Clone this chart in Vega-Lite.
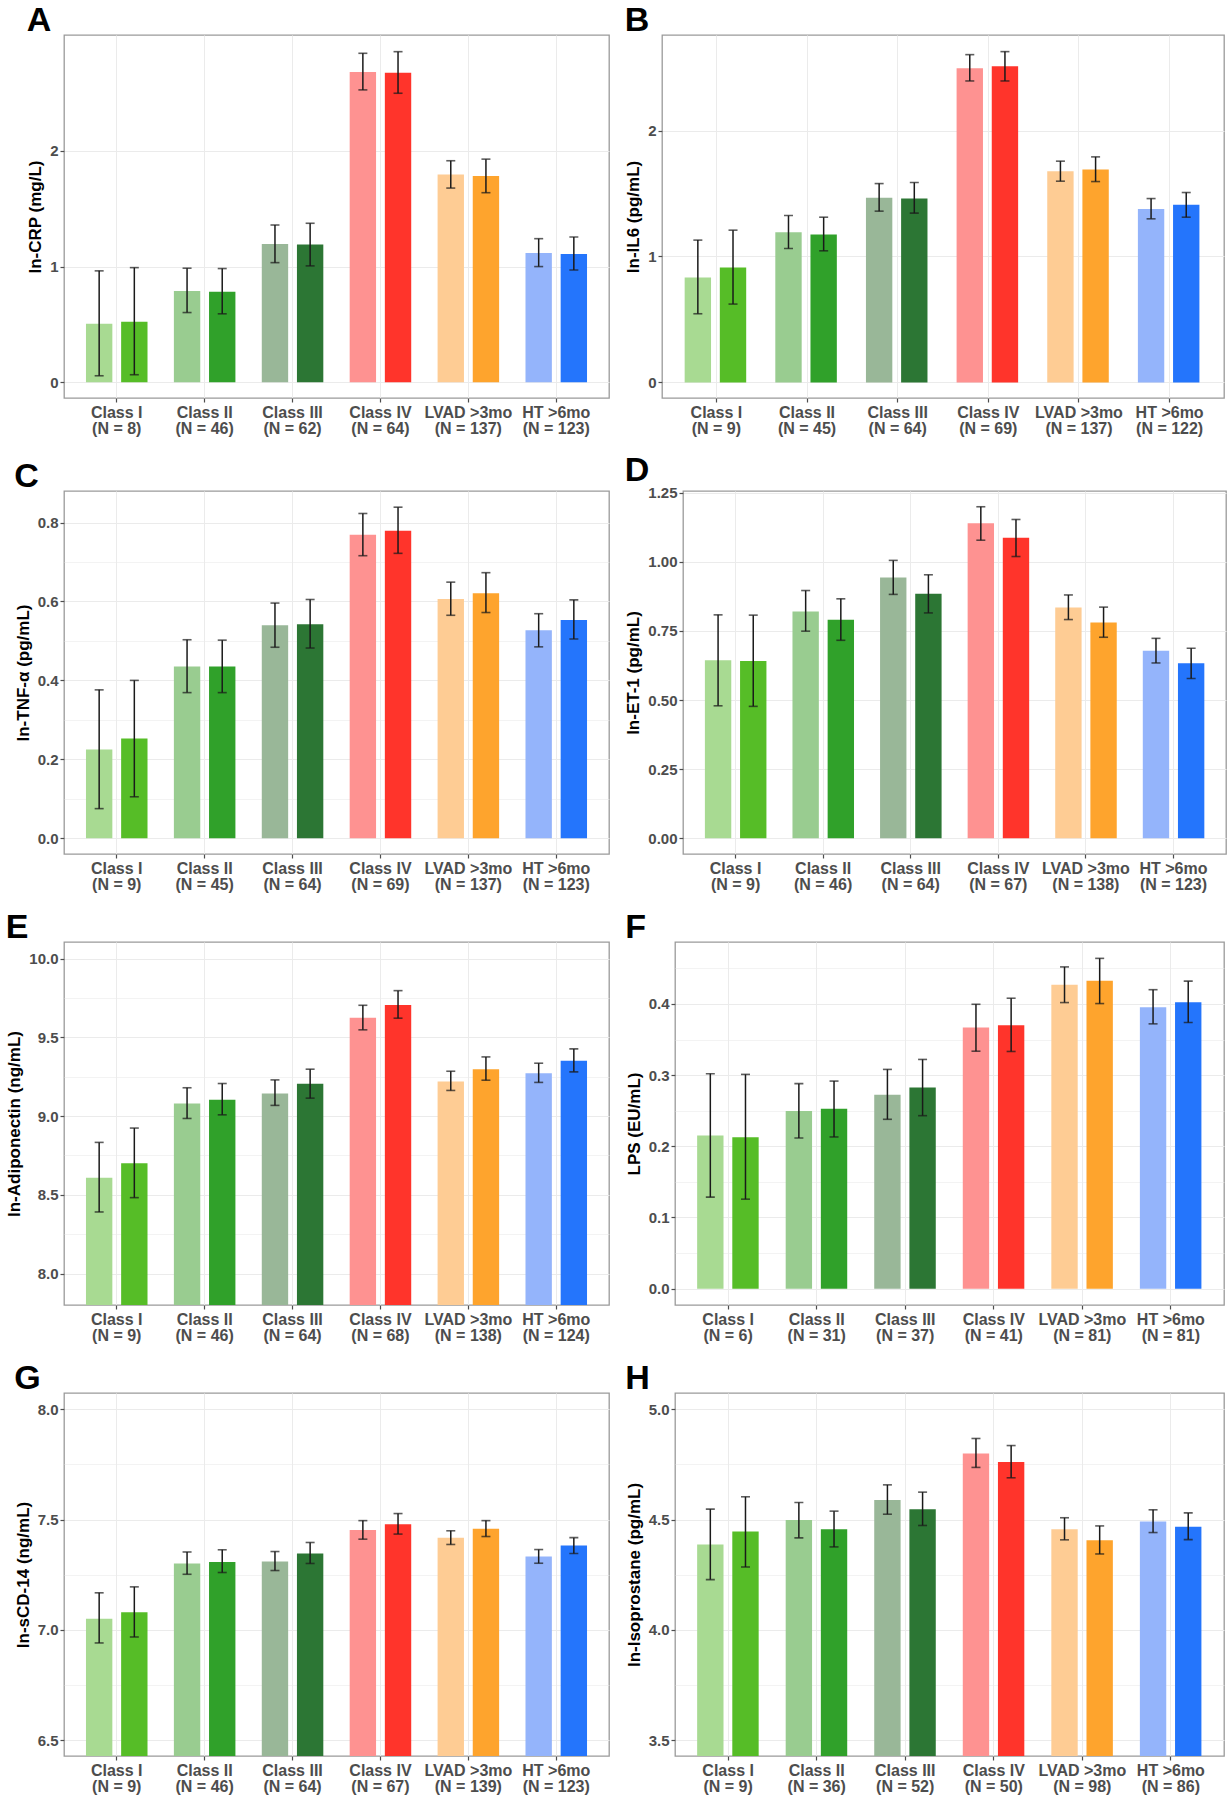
{
"$schema": "https://vega.github.io/schema/vega-lite/v6.json",
"padding": {"left": 5, "top": 2, "right": 0, "bottom": 0},
"background": "white",
"spacing": 16,
"config": {
  "font": "Liberation Sans",
  "view": {"stroke": "#9a9a9a", "strokeWidth": 1.3},
  "axis": {"labelFontWeight": "bold", "labelColor": "#4d4d4d", "labelFontSize": 15, "titleFontSize": 17, "titleFontWeight": "bold", "titleColor": "#000000", "domain": false, "gridColor": "#ebebeb", "tickColor": "#4d4d4d", "tickSize": 4, "tickWidth": 1.2, "titlePadding": 5},
  "axisX": {"labelFontSize": 16},
  "title": {"fontSize": 34, "fontWeight": "bold", "anchor": "start", "frame": "bounds", "color": "#000000", "offset": -2.5, "baseline": "alphabetic"},
  "concat": {"spacing": 14}
},
"vconcat": [
{"hconcat": [
{
  "width": 545, "height": 363,
  "title": "A",
  "data": {"values": [
    {"g":"Class I|(N = 8)","s":"a","c":"I-l","v":0.506,"lo":0.057,"hi":0.963},
    {"g":"Class I|(N = 8)","s":"b","c":"I-d","v":0.523,"lo":0.066,"hi":0.991},
    {"g":"Class II|(N = 46)","s":"a","c":"II-l","v":0.79,"lo":0.603,"hi":0.986},
    {"g":"Class II|(N = 46)","s":"b","c":"II-d","v":0.782,"lo":0.592,"hi":0.983},
    {"g":"Class III|(N = 62)","s":"a","c":"III-l","v":1.195,"lo":1.034,"hi":1.359},
    {"g":"Class III|(N = 62)","s":"b","c":"III-d","v":1.19,"lo":1.006,"hi":1.374},
    {"g":"Class IV|(N = 64)","s":"a","c":"IV-l","v":2.681,"lo":2.526,"hi":2.842},
    {"g":"Class IV|(N = 64)","s":"b","c":"IV-d","v":2.675,"lo":2.497,"hi":2.856},
    {"g":"LVAD >3mo|(N = 137)","s":"a","c":"L-l","v":1.796,"lo":1.678,"hi":1.914},
    {"g":"LVAD >3mo|(N = 137)","s":"b","c":"L-d","v":1.782,"lo":1.638,"hi":1.928},
    {"g":"HT >6mo|(N = 123)","s":"a","c":"H-l","v":1.118,"lo":1.0,"hi":1.241},
    {"g":"HT >6mo|(N = 123)","s":"b","c":"H-d","v":1.109,"lo":0.971,"hi":1.256}
  ]},
  "encoding": {
    "x": {"field": "g", "type": "nominal", "sort": null, "title": null, "scale": {"paddingInner": 0.3, "paddingOuter": 0.25}, "axis": {"labelAngle": 0, "labelExpr": "split(datum.label, '|')", "labelLineHeight": 16, "grid": true, "labelPadding": 2}},
    "xOffset": {"field": "s", "type": "nominal", "scale": {"paddingInner": 0.25, "paddingOuter": 0}}
  },
  "layer": [
    {"mark": {"type": "bar", "clip": true},
     "encoding": {
       "y": {"field": "v", "type": "quantitative", "title": "ln-CRP (mg/L)", "scale": {"domain": [-0.135, 3.0], "nice": false, "zero": false},
             "axis": {"values": [0,0.5,1,1.5,2,2.5], "format": "d", "labelExpr": "abs(datum.value - round(datum.value)) < 0.001 ? datum.label : ''", "tickOpacity": {"condition": {"test": "abs(datum.value - round(datum.value)) < 0.001", "value": 1}, "value": 0}, "gridWidth": {"condition": {"test": "abs(datum.value - round(datum.value)) < 0.001", "value": 1.2}, "value": 0.6}}},
       "color": {"field": "c", "type": "nominal", "legend": null, "scale": {"domain": ["I-l","I-d","II-l","II-d","III-l","III-d","IV-l","IV-d","L-l","L-d","H-l","H-d"], "range": ["#a8da92","#56bd27","#99cc90","#30a12a","#99b798","#2c7634","#fe9291","#ff342b","#fecc94","#fea42d","#94b4fb","#2475fc"]}}
     }},
    {"mark": {"type": "rule", "color": "#1a1a1a", "strokeWidth": 1.5}, "encoding": {"y": {"field": "lo", "type": "quantitative"}, "y2": {"field": "hi"}}},
    {"mark": {"type": "tick", "color": "#1a1a1a", "size": 9, "thickness": 1.6}, "encoding": {"y": {"field": "lo", "type": "quantitative"}}},
    {"mark": {"type": "tick", "color": "#1a1a1a", "size": 9, "thickness": 1.6}, "encoding": {"y": {"field": "hi", "type": "quantitative"}}}
  ]
},
{
  "width": 562, "height": 363,
  "title": "B",
  "data": {"values": [
    {"g":"Class I|(N = 9)","s":"a","c":"I-l","v":0.833,"lo":0.545,"hi":1.13},
    {"g":"Class I|(N = 9)","s":"b","c":"I-d","v":0.913,"lo":0.622,"hi":1.209},
    {"g":"Class II|(N = 45)","s":"a","c":"II-l","v":1.193,"lo":1.063,"hi":1.325},
    {"g":"Class II|(N = 45)","s":"b","c":"II-d","v":1.175,"lo":1.045,"hi":1.312},
    {"g":"Class III|(N = 64)","s":"a","c":"III-l","v":1.466,"lo":1.36,"hi":1.579},
    {"g":"Class III|(N = 64)","s":"b","c":"III-d","v":1.46,"lo":1.344,"hi":1.587},
    {"g":"Class IV|(N = 69)","s":"a","c":"IV-l","v":2.495,"lo":2.394,"hi":2.603},
    {"g":"Class IV|(N = 69)","s":"b","c":"IV-d","v":2.511,"lo":2.394,"hi":2.627},
    {"g":"LVAD >3mo|(N = 137)","s":"a","c":"L-l","v":1.677,"lo":1.598,"hi":1.757},
    {"g":"LVAD >3mo|(N = 137)","s":"b","c":"L-d","v":1.69,"lo":1.595,"hi":1.791},
    {"g":"HT >6mo|(N = 122)","s":"a","c":"H-l","v":1.378,"lo":1.299,"hi":1.46},
    {"g":"HT >6mo|(N = 122)","s":"b","c":"H-d","v":1.41,"lo":1.312,"hi":1.508}
  ]},
  "encoding": {
    "x": {"field": "g", "type": "nominal", "sort": null, "title": null, "scale": {"paddingInner": 0.3, "paddingOuter": 0.25}, "axis": {"labelAngle": 0, "labelExpr": "split(datum.label, '|')", "labelLineHeight": 16, "grid": true, "labelPadding": 2}},
    "xOffset": {"field": "s", "type": "nominal", "scale": {"paddingInner": 0.25, "paddingOuter": 0}}
  },
  "layer": [
    {"mark": {"type": "bar", "clip": true},
     "encoding": {
       "y": {"field": "v", "type": "quantitative", "title": "ln-IL6 (pg/mL)", "scale": {"domain": [-0.124, 2.759], "nice": false, "zero": false},
             "axis": {"values": [0,0.5,1,1.5,2,2.5], "format": "d", "labelExpr": "abs(datum.value - round(datum.value)) < 0.001 ? datum.label : ''", "tickOpacity": {"condition": {"test": "abs(datum.value - round(datum.value)) < 0.001", "value": 1}, "value": 0}, "gridWidth": {"condition": {"test": "abs(datum.value - round(datum.value)) < 0.001", "value": 1.2}, "value": 0.6}}},
       "color": {"field": "c", "type": "nominal", "legend": null, "scale": {"domain": ["I-l","I-d","II-l","II-d","III-l","III-d","IV-l","IV-d","L-l","L-d","H-l","H-d"], "range": ["#a8da92","#56bd27","#99cc90","#30a12a","#99b798","#2c7634","#fe9291","#ff342b","#fecc94","#fea42d","#94b4fb","#2475fc"]}}
     }},
    {"mark": {"type": "rule", "color": "#1a1a1a", "strokeWidth": 1.5}, "encoding": {"y": {"field": "lo", "type": "quantitative"}, "y2": {"field": "hi"}}},
    {"mark": {"type": "tick", "color": "#1a1a1a", "size": 9, "thickness": 1.6}, "encoding": {"y": {"field": "lo", "type": "quantitative"}}},
    {"mark": {"type": "tick", "color": "#1a1a1a", "size": 9, "thickness": 1.6}, "encoding": {"y": {"field": "hi", "type": "quantitative"}}}
  ]
}
]},
{"hconcat": [
{
  "width": 545, "height": 363,
  "title": "C",
  "data": {"values": [
    {"g":"Class I|(N = 9)","s":"a","c":"I-l","v":0.225,"lo":0.075,"hi":0.376},
    {"g":"Class I|(N = 9)","s":"b","c":"I-d","v":0.253,"lo":0.105,"hi":0.4},
    {"g":"Class II|(N = 45)","s":"a","c":"II-l","v":0.435,"lo":0.369,"hi":0.503},
    {"g":"Class II|(N = 45)","s":"b","c":"II-d","v":0.435,"lo":0.369,"hi":0.502},
    {"g":"Class III|(N = 64)","s":"a","c":"III-l","v":0.54,"lo":0.484,"hi":0.596},
    {"g":"Class III|(N = 64)","s":"b","c":"III-d","v":0.542,"lo":0.482,"hi":0.605},
    {"g":"Class IV|(N = 69)","s":"a","c":"IV-l","v":0.769,"lo":0.716,"hi":0.823},
    {"g":"Class IV|(N = 69)","s":"b","c":"IV-d","v":0.779,"lo":0.722,"hi":0.839},
    {"g":"LVAD >3mo|(N = 137)","s":"a","c":"L-l","v":0.606,"lo":0.565,"hi":0.649},
    {"g":"LVAD >3mo|(N = 137)","s":"b","c":"L-d","v":0.621,"lo":0.572,"hi":0.673},
    {"g":"HT >6mo|(N = 123)","s":"a","c":"H-l","v":0.527,"lo":0.485,"hi":0.569},
    {"g":"HT >6mo|(N = 123)","s":"b","c":"H-d","v":0.553,"lo":0.505,"hi":0.604}
  ]},
  "encoding": {
    "x": {"field": "g", "type": "nominal", "sort": null, "title": null, "scale": {"paddingInner": 0.3, "paddingOuter": 0.25}, "axis": {"labelAngle": 0, "labelExpr": "split(datum.label, '|')", "labelLineHeight": 16, "grid": true, "labelPadding": 2}},
    "xOffset": {"field": "s", "type": "nominal", "scale": {"paddingInner": 0.25, "paddingOuter": 0}}
  },
  "layer": [
    {"mark": {"type": "bar", "clip": true},
     "encoding": {
       "y": {"field": "v", "type": "quantitative", "title": "ln-TNF-α (pg/mL)", "scale": {"domain": [-0.04, 0.88], "nice": false, "zero": false},
             "axis": {"values": [0,0.1,0.2,0.3,0.4,0.5,0.6,0.7,0.8], "format": ".1f", "labelExpr": "abs(datum.value/0.2 - round(datum.value/0.2)) < 0.001 ? datum.label : ''", "tickOpacity": {"condition": {"test": "abs(datum.value/0.2 - round(datum.value/0.2)) < 0.001", "value": 1}, "value": 0}, "gridWidth": {"condition": {"test": "abs(datum.value/0.2 - round(datum.value/0.2)) < 0.001", "value": 1.2}, "value": 0.6}}},
       "color": {"field": "c", "type": "nominal", "legend": null, "scale": {"domain": ["I-l","I-d","II-l","II-d","III-l","III-d","IV-l","IV-d","L-l","L-d","H-l","H-d"], "range": ["#a8da92","#56bd27","#99cc90","#30a12a","#99b798","#2c7634","#fe9291","#ff342b","#fecc94","#fea42d","#94b4fb","#2475fc"]}}
     }},
    {"mark": {"type": "rule", "color": "#1a1a1a", "strokeWidth": 1.5}, "encoding": {"y": {"field": "lo", "type": "quantitative"}, "y2": {"field": "hi"}}},
    {"mark": {"type": "tick", "color": "#1a1a1a", "size": 9, "thickness": 1.6}, "encoding": {"y": {"field": "lo", "type": "quantitative"}}},
    {"mark": {"type": "tick", "color": "#1a1a1a", "size": 9, "thickness": 1.6}, "encoding": {"y": {"field": "hi", "type": "quantitative"}}}
  ]
},
{
  "width": 543, "height": 363,
  "title": "D",
  "data": {"values": [
    {"g":"Class I|(N = 9)","s":"a","c":"I-l","v":0.644,"lo":0.479,"hi":0.808},
    {"g":"Class I|(N = 9)","s":"b","c":"I-d","v":0.641,"lo":0.477,"hi":0.807},
    {"g":"Class II|(N = 46)","s":"a","c":"II-l","v":0.82,"lo":0.749,"hi":0.896},
    {"g":"Class II|(N = 46)","s":"b","c":"II-d","v":0.79,"lo":0.716,"hi":0.866},
    {"g":"Class III|(N = 64)","s":"a","c":"III-l","v":0.943,"lo":0.882,"hi":1.005},
    {"g":"Class III|(N = 64)","s":"b","c":"III-d","v":0.884,"lo":0.815,"hi":0.953},
    {"g":"Class IV|(N = 67)","s":"a","c":"IV-l","v":1.139,"lo":1.078,"hi":1.199},
    {"g":"Class IV|(N = 67)","s":"b","c":"IV-d","v":1.087,"lo":1.019,"hi":1.153},
    {"g":"LVAD >3mo|(N = 138)","s":"a","c":"L-l","v":0.835,"lo":0.791,"hi":0.88},
    {"g":"LVAD >3mo|(N = 138)","s":"b","c":"L-d","v":0.78,"lo":0.727,"hi":0.836},
    {"g":"HT >6mo|(N = 123)","s":"a","c":"H-l","v":0.678,"lo":0.634,"hi":0.723},
    {"g":"HT >6mo|(N = 123)","s":"b","c":"H-d","v":0.633,"lo":0.578,"hi":0.687}
  ]},
  "encoding": {
    "x": {"field": "g", "type": "nominal", "sort": null, "title": null, "scale": {"paddingInner": 0.3, "paddingOuter": 0.25}, "axis": {"labelAngle": 0, "labelExpr": "split(datum.label, '|')", "labelLineHeight": 16, "grid": true, "labelPadding": 2}},
    "xOffset": {"field": "s", "type": "nominal", "scale": {"paddingInner": 0.25, "paddingOuter": 0}}
  },
  "layer": [
    {"mark": {"type": "bar", "clip": true},
     "encoding": {
       "y": {"field": "v", "type": "quantitative", "title": "ln-ET-1 (pg/mL)", "scale": {"domain": [-0.057, 1.256], "nice": false, "zero": false},
             "axis": {"values": [0,0.125,0.25,0.375,0.5,0.625,0.75,0.875,1,1.125,1.25], "format": ".2f", "labelExpr": "abs(datum.value/0.25 - round(datum.value/0.25)) < 0.001 ? datum.label : ''", "tickOpacity": {"condition": {"test": "abs(datum.value/0.25 - round(datum.value/0.25)) < 0.001", "value": 1}, "value": 0}, "gridWidth": {"condition": {"test": "abs(datum.value/0.25 - round(datum.value/0.25)) < 0.001", "value": 1.2}, "value": 0.6}}},
       "color": {"field": "c", "type": "nominal", "legend": null, "scale": {"domain": ["I-l","I-d","II-l","II-d","III-l","III-d","IV-l","IV-d","L-l","L-d","H-l","H-d"], "range": ["#a8da92","#56bd27","#99cc90","#30a12a","#99b798","#2c7634","#fe9291","#ff342b","#fecc94","#fea42d","#94b4fb","#2475fc"]}}
     }},
    {"mark": {"type": "rule", "color": "#1a1a1a", "strokeWidth": 1.5}, "encoding": {"y": {"field": "lo", "type": "quantitative"}, "y2": {"field": "hi"}}},
    {"mark": {"type": "tick", "color": "#1a1a1a", "size": 9, "thickness": 1.6}, "encoding": {"y": {"field": "lo", "type": "quantitative"}}},
    {"mark": {"type": "tick", "color": "#1a1a1a", "size": 9, "thickness": 1.6}, "encoding": {"y": {"field": "hi", "type": "quantitative"}}}
  ]
}
]},
{"hconcat": [
{
  "width": 545, "height": 363,
  "title": "E",
  "data": {"values": [
    {"g":"Class I|(N = 9)","s":"a","c":"I-l","v":8.609,"lo":8.391,"hi":8.833},
    {"g":"Class I|(N = 9)","s":"b","c":"I-d","v":8.7,"lo":8.482,"hi":8.924},
    {"g":"Class II|(N = 46)","s":"a","c":"II-l","v":9.08,"lo":8.985,"hi":9.18},
    {"g":"Class II|(N = 46)","s":"b","c":"II-d","v":9.104,"lo":9.008,"hi":9.207},
    {"g":"Class III|(N = 64)","s":"a","c":"III-l","v":9.144,"lo":9.068,"hi":9.23},
    {"g":"Class III|(N = 64)","s":"b","c":"III-d","v":9.205,"lo":9.114,"hi":9.298},
    {"g":"Class IV|(N = 68)","s":"a","c":"IV-l","v":9.624,"lo":9.548,"hi":9.704},
    {"g":"Class IV|(N = 68)","s":"b","c":"IV-d","v":9.706,"lo":9.622,"hi":9.797},
    {"g":"LVAD >3mo|(N = 138)","s":"a","c":"L-l","v":9.22,"lo":9.163,"hi":9.285},
    {"g":"LVAD >3mo|(N = 138)","s":"b","c":"L-d","v":9.298,"lo":9.228,"hi":9.376},
    {"g":"HT >6mo|(N = 124)","s":"a","c":"H-l","v":9.273,"lo":9.214,"hi":9.336},
    {"g":"HT >6mo|(N = 124)","s":"b","c":"H-d","v":9.351,"lo":9.281,"hi":9.427}
  ]},
  "encoding": {
    "x": {"field": "g", "type": "nominal", "sort": null, "title": null, "scale": {"paddingInner": 0.3, "paddingOuter": 0.25}, "axis": {"labelAngle": 0, "labelExpr": "split(datum.label, '|')", "labelLineHeight": 16, "grid": true, "labelPadding": 2}},
    "xOffset": {"field": "s", "type": "nominal", "scale": {"paddingInner": 0.25, "paddingOuter": 0}}
  },
  "layer": [
    {"mark": {"type": "bar", "clip": true},
     "encoding": {
       "y": {"field": "v", "type": "quantitative", "title": "ln-Adiponectin (ng/mL)", "scale": {"domain": [7.8, 10.106], "nice": false, "zero": false},
             "axis": {"values": [8,8.25,8.5,8.75,9,9.25,9.5,9.75,10], "format": ".1f", "labelExpr": "abs(datum.value/0.5 - round(datum.value/0.5)) < 0.001 ? datum.label : ''", "tickOpacity": {"condition": {"test": "abs(datum.value/0.5 - round(datum.value/0.5)) < 0.001", "value": 1}, "value": 0}, "gridWidth": {"condition": {"test": "abs(datum.value/0.5 - round(datum.value/0.5)) < 0.001", "value": 1.2}, "value": 0.6}}},
       "color": {"field": "c", "type": "nominal", "legend": null, "scale": {"domain": ["I-l","I-d","II-l","II-d","III-l","III-d","IV-l","IV-d","L-l","L-d","H-l","H-d"], "range": ["#a8da92","#56bd27","#99cc90","#30a12a","#99b798","#2c7634","#fe9291","#ff342b","#fecc94","#fea42d","#94b4fb","#2475fc"]}}
     }},
    {"mark": {"type": "rule", "color": "#1a1a1a", "strokeWidth": 1.5}, "encoding": {"y": {"field": "lo", "type": "quantitative"}, "y2": {"field": "hi"}}},
    {"mark": {"type": "tick", "color": "#1a1a1a", "size": 9, "thickness": 1.6}, "encoding": {"y": {"field": "lo", "type": "quantitative"}}},
    {"mark": {"type": "tick", "color": "#1a1a1a", "size": 9, "thickness": 1.6}, "encoding": {"y": {"field": "hi", "type": "quantitative"}}}
  ]
},
{
  "width": 549, "height": 363,
  "title": "F",
  "data": {"values": [
    {"g":"Class I|(N = 6)","s":"a","c":"I-l","v":0.215,"lo":0.1285,"hi":0.302},
    {"g":"Class I|(N = 6)","s":"b","c":"I-d","v":0.2126,"lo":0.1257,"hi":0.301},
    {"g":"Class II|(N = 31)","s":"a","c":"II-l","v":0.2495,"lo":0.2117,"hi":0.288},
    {"g":"Class II|(N = 31)","s":"b","c":"II-d","v":0.2528,"lo":0.2131,"hi":0.2916},
    {"g":"Class III|(N = 37)","s":"a","c":"III-l","v":0.2724,"lo":0.2379,"hi":0.308},
    {"g":"Class III|(N = 37)","s":"b","c":"III-d","v":0.2827,"lo":0.243,"hi":0.322},
    {"g":"Class IV|(N = 41)","s":"a","c":"IV-l","v":0.3668,"lo":0.3336,"hi":0.3995},
    {"g":"Class IV|(N = 41)","s":"b","c":"IV-d","v":0.37,"lo":0.3332,"hi":0.408},
    {"g":"LVAD >3mo|(N = 81)","s":"a","c":"L-l","v":0.427,"lo":0.4019,"hi":0.452},
    {"g":"LVAD >3mo|(N = 81)","s":"b","c":"L-d","v":0.4327,"lo":0.4005,"hi":0.464},
    {"g":"HT >6mo|(N = 81)","s":"a","c":"H-l","v":0.3953,"lo":0.372,"hi":0.42},
    {"g":"HT >6mo|(N = 81)","s":"b","c":"H-d","v":0.4023,"lo":0.3738,"hi":0.432}
  ]},
  "encoding": {
    "x": {"field": "g", "type": "nominal", "sort": null, "title": null, "scale": {"paddingInner": 0.3, "paddingOuter": 0.25}, "axis": {"labelAngle": 0, "labelExpr": "split(datum.label, '|')", "labelLineHeight": 16, "grid": true, "labelPadding": 2}},
    "xOffset": {"field": "s", "type": "nominal", "scale": {"paddingInner": 0.25, "paddingOuter": 0}}
  },
  "layer": [
    {"mark": {"type": "bar", "clip": true},
     "encoding": {
       "y": {"field": "v", "type": "quantitative", "title": "LPS (EU/mL)", "scale": {"domain": [-0.023, 0.487], "nice": false, "zero": false},
             "axis": {"values": [0,0.05,0.1,0.15,0.2,0.25,0.3,0.35,0.4,0.45], "format": ".1f", "labelExpr": "abs(datum.value/0.1 - round(datum.value/0.1)) < 0.001 ? datum.label : ''", "tickOpacity": {"condition": {"test": "abs(datum.value/0.1 - round(datum.value/0.1)) < 0.001", "value": 1}, "value": 0}, "gridWidth": {"condition": {"test": "abs(datum.value/0.1 - round(datum.value/0.1)) < 0.001", "value": 1.2}, "value": 0.6}}},
       "color": {"field": "c", "type": "nominal", "legend": null, "scale": {"domain": ["I-l","I-d","II-l","II-d","III-l","III-d","IV-l","IV-d","L-l","L-d","H-l","H-d"], "range": ["#a8da92","#56bd27","#99cc90","#30a12a","#99b798","#2c7634","#fe9291","#ff342b","#fecc94","#fea42d","#94b4fb","#2475fc"]}}
     }},
    {"mark": {"type": "rule", "color": "#1a1a1a", "strokeWidth": 1.5}, "encoding": {"y": {"field": "lo", "type": "quantitative"}, "y2": {"field": "hi"}}},
    {"mark": {"type": "tick", "color": "#1a1a1a", "size": 9, "thickness": 1.6}, "encoding": {"y": {"field": "lo", "type": "quantitative"}}},
    {"mark": {"type": "tick", "color": "#1a1a1a", "size": 9, "thickness": 1.6}, "encoding": {"y": {"field": "hi", "type": "quantitative"}}}
  ]
}
]},
{"hconcat": [
{
  "width": 545, "height": 363,
  "title": "G",
  "data": {"values": [
    {"g":"Class I|(N = 9)","s":"a","c":"I-l","v":7.051,"lo":6.941,"hi":7.168},
    {"g":"Class I|(N = 9)","s":"b","c":"I-d","v":7.08,"lo":6.968,"hi":7.195},
    {"g":"Class II|(N = 46)","s":"a","c":"II-l","v":7.301,"lo":7.252,"hi":7.353},
    {"g":"Class II|(N = 46)","s":"b","c":"II-d","v":7.308,"lo":7.26,"hi":7.363},
    {"g":"Class III|(N = 64)","s":"a","c":"III-l","v":7.31,"lo":7.269,"hi":7.355},
    {"g":"Class III|(N = 64)","s":"b","c":"III-d","v":7.346,"lo":7.301,"hi":7.396},
    {"g":"Class IV|(N = 67)","s":"a","c":"IV-l","v":7.452,"lo":7.411,"hi":7.495},
    {"g":"Class IV|(N = 67)","s":"b","c":"IV-d","v":7.479,"lo":7.434,"hi":7.527},
    {"g":"LVAD >3mo|(N = 139)","s":"a","c":"L-l","v":7.417,"lo":7.387,"hi":7.449},
    {"g":"LVAD >3mo|(N = 139)","s":"b","c":"L-d","v":7.458,"lo":7.423,"hi":7.495},
    {"g":"HT >6mo|(N = 123)","s":"a","c":"H-l","v":7.332,"lo":7.302,"hi":7.364},
    {"g":"HT >6mo|(N = 123)","s":"b","c":"H-d","v":7.382,"lo":7.346,"hi":7.418}
  ]},
  "encoding": {
    "x": {"field": "g", "type": "nominal", "sort": null, "title": null, "scale": {"paddingInner": 0.3, "paddingOuter": 0.25}, "axis": {"labelAngle": 0, "labelExpr": "split(datum.label, '|')", "labelLineHeight": 16, "grid": true, "labelPadding": 2}},
    "xOffset": {"field": "s", "type": "nominal", "scale": {"paddingInner": 0.25, "paddingOuter": 0}}
  },
  "layer": [
    {"mark": {"type": "bar", "clip": true},
     "encoding": {
       "y": {"field": "v", "type": "quantitative", "title": "ln-sCD-14 (ng/mL)", "scale": {"domain": [6.429, 8.073], "nice": false, "zero": false},
             "axis": {"values": [6.5,6.75,7,7.25,7.5,7.75,8], "format": ".1f", "labelExpr": "abs(datum.value/0.5 - round(datum.value/0.5)) < 0.001 ? datum.label : ''", "tickOpacity": {"condition": {"test": "abs(datum.value/0.5 - round(datum.value/0.5)) < 0.001", "value": 1}, "value": 0}, "gridWidth": {"condition": {"test": "abs(datum.value/0.5 - round(datum.value/0.5)) < 0.001", "value": 1.2}, "value": 0.6}}},
       "color": {"field": "c", "type": "nominal", "legend": null, "scale": {"domain": ["I-l","I-d","II-l","II-d","III-l","III-d","IV-l","IV-d","L-l","L-d","H-l","H-d"], "range": ["#a8da92","#56bd27","#99cc90","#30a12a","#99b798","#2c7634","#fe9291","#ff342b","#fecc94","#fea42d","#94b4fb","#2475fc"]}}
     }},
    {"mark": {"type": "rule", "color": "#1a1a1a", "strokeWidth": 1.5}, "encoding": {"y": {"field": "lo", "type": "quantitative"}, "y2": {"field": "hi"}}},
    {"mark": {"type": "tick", "color": "#1a1a1a", "size": 9, "thickness": 1.6}, "encoding": {"y": {"field": "lo", "type": "quantitative"}}},
    {"mark": {"type": "tick", "color": "#1a1a1a", "size": 9, "thickness": 1.6}, "encoding": {"y": {"field": "hi", "type": "quantitative"}}}
  ]
},
{
  "width": 549, "height": 363,
  "title": "H",
  "data": {"values": [
    {"g":"Class I|(N = 9)","s":"a","c":"I-l","v":4.387,"lo":4.228,"hi":4.547},
    {"g":"Class I|(N = 9)","s":"b","c":"I-d","v":4.446,"lo":4.285,"hi":4.603},
    {"g":"Class II|(N = 36)","s":"a","c":"II-l","v":4.498,"lo":4.417,"hi":4.577},
    {"g":"Class II|(N = 36)","s":"b","c":"II-d","v":4.456,"lo":4.376,"hi":4.538},
    {"g":"Class III|(N = 52)","s":"a","c":"III-l","v":4.588,"lo":4.524,"hi":4.657},
    {"g":"Class III|(N = 52)","s":"b","c":"III-d","v":4.547,"lo":4.473,"hi":4.624},
    {"g":"Class IV|(N = 50)","s":"a","c":"IV-l","v":4.799,"lo":4.736,"hi":4.867},
    {"g":"Class IV|(N = 50)","s":"b","c":"IV-d","v":4.761,"lo":4.689,"hi":4.835},
    {"g":"LVAD >3mo|(N = 98)","s":"a","c":"L-l","v":4.456,"lo":4.408,"hi":4.508},
    {"g":"LVAD >3mo|(N = 98)","s":"b","c":"L-d","v":4.406,"lo":4.344,"hi":4.471},
    {"g":"HT >6mo|(N = 86)","s":"a","c":"H-l","v":4.491,"lo":4.441,"hi":4.544},
    {"g":"HT >6mo|(N = 86)","s":"b","c":"H-d","v":4.467,"lo":4.409,"hi":4.53}
  ]},
  "encoding": {
    "x": {"field": "g", "type": "nominal", "sort": null, "title": null, "scale": {"paddingInner": 0.3, "paddingOuter": 0.25}, "axis": {"labelAngle": 0, "labelExpr": "split(datum.label, '|')", "labelLineHeight": 16, "grid": true, "labelPadding": 2}},
    "xOffset": {"field": "s", "type": "nominal", "scale": {"paddingInner": 0.25, "paddingOuter": 0}}
  },
  "layer": [
    {"mark": {"type": "bar", "clip": true},
     "encoding": {
       "y": {"field": "v", "type": "quantitative", "title": "ln-Isoprostane (pg/mL)", "scale": {"domain": [3.429, 5.073], "nice": false, "zero": false},
             "axis": {"values": [3.5,3.75,4,4.25,4.5,4.75,5], "format": ".1f", "labelExpr": "abs(datum.value/0.5 - round(datum.value/0.5)) < 0.001 ? datum.label : ''", "tickOpacity": {"condition": {"test": "abs(datum.value/0.5 - round(datum.value/0.5)) < 0.001", "value": 1}, "value": 0}, "gridWidth": {"condition": {"test": "abs(datum.value/0.5 - round(datum.value/0.5)) < 0.001", "value": 1.2}, "value": 0.6}}},
       "color": {"field": "c", "type": "nominal", "legend": null, "scale": {"domain": ["I-l","I-d","II-l","II-d","III-l","III-d","IV-l","IV-d","L-l","L-d","H-l","H-d"], "range": ["#a8da92","#56bd27","#99cc90","#30a12a","#99b798","#2c7634","#fe9291","#ff342b","#fecc94","#fea42d","#94b4fb","#2475fc"]}}
     }},
    {"mark": {"type": "rule", "color": "#1a1a1a", "strokeWidth": 1.5}, "encoding": {"y": {"field": "lo", "type": "quantitative"}, "y2": {"field": "hi"}}},
    {"mark": {"type": "tick", "color": "#1a1a1a", "size": 9, "thickness": 1.6}, "encoding": {"y": {"field": "lo", "type": "quantitative"}}},
    {"mark": {"type": "tick", "color": "#1a1a1a", "size": 9, "thickness": 1.6}, "encoding": {"y": {"field": "hi", "type": "quantitative"}}}
  ]
}
]}
]
}
